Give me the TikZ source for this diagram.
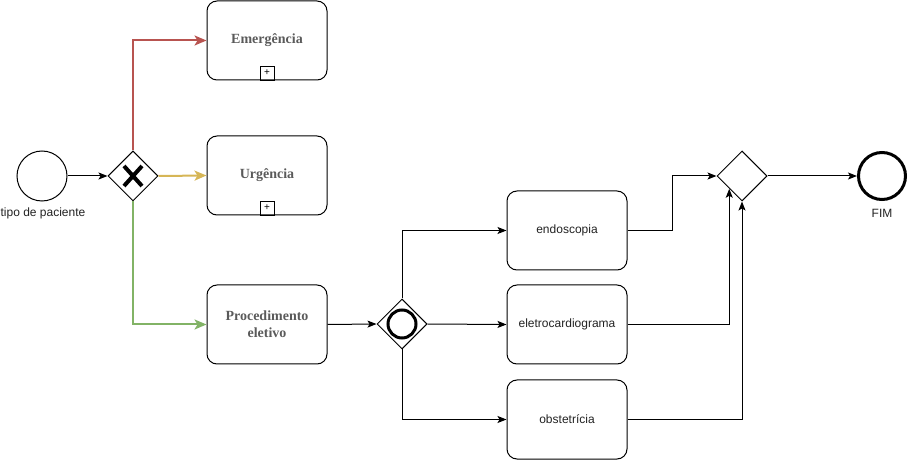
\documentclass[tikz,border=0pt]{standalone}
\usepackage{fontspec}
\setmainfont{Liberation Serif}
\setsansfont{Liberation Sans}
\usetikzlibrary{shapes.geometric,arrows.meta}
\definecolor{cred}{HTML}{B85450}
\definecolor{cyel}{HTML}{D6B656}
\definecolor{cgrn}{HTML}{82B366}
\definecolor{ttl}{HTML}{5A5A5A}
\definecolor{lbl}{HTML}{222222}
\tikzset{
  task/.style={draw=black, line width=1pt, rounded corners=10pt, minimum width=120pt, minimum height=79pt, inner sep=0pt, align=center},
  sub/.style={task, font=\fontsize{14}{17}\selectfont\bfseries\rmfamily, text=ttl},
  plain/.style={task, font=\fontsize{12}{14}\selectfont\sffamily, text=lbl},
  gate/.style={draw=black, line width=1pt, diamond, minimum size=50pt, inner sep=0pt},
  ev/.style={draw=black, circle, minimum size=50pt, inner sep=0pt},
  lab/.style={font=\fontsize{12}{14}\selectfont\sffamily, text=lbl},
  flow/.style={line width=1pt, -{Stealth[length=9pt,width=7pt,inset=2pt]}},
  cflow/.style={line width=2pt, -{Stealth[length=12pt,width=10pt,inset=3pt]}},
  plus/.style={draw=black, line width=0.8pt, minimum size=14pt, inner sep=0pt, font=\fontsize{10}{10}\selectfont\sffamily}
}
\begin{document}
\begin{tikzpicture}[x=1pt,y=-1pt]
\useasboundingbox (0,0) rectangle (908,462);
% events
\node[ev, line width=1pt] (start) at (42,176) {};
\node[lab] (startlab) at (43,213) {tipo de paciente};
\node[ev, line width=3pt, minimum size=47pt] (fim) at (882,176) {};
\node[lab] (fimlab) at (882,213) {FIM};
% gateways
\node[gate] (gx) at (133,176) {};
\draw[line width=4pt] (124,166) -- (142,186) (142,166) -- (124,186);
\node[gate] (gi) at (402,324) {};
\node[draw=black, circle, line width=3pt, minimum size=28pt, inner sep=0pt] (gicirc) at (402,324) {};
\node[gate] (gp) at (742,176) {};
% tasks
\node[sub] (emerg) at (267,40.5) {Emergência};
\node[plus, anchor=south] (pe) at (emerg.south) {+};
\node[sub] (urg) at (267,175.5) {Urgência};
\node[plus, anchor=south] (pu) at (urg.south) {+};
\node[sub] (proc) at (267,324.5) {Procedimento\\eletivo};
\node[plain] (endo) at (567,230.5) {endoscopia};
\node[plain] (eletro) at (567,324.5) {eletrocardiograma};
\node[plain] (obst) at (567,419.5) {obstetrícia};
% flows
\draw[flow] (start.east) -- (gx.west);
\draw[cflow, cred] (gx.north) |- (emerg.west);
\draw[cflow, cyel] (gx.east) -- (urg.west);
\draw[cflow, cgrn] (gx.south) |- (proc.west);
\draw[flow] (proc.east) -- (gi.west);
\draw[flow] (gi.north) |- (endo.west);
\draw[flow] (gi.east) -- (eletro.west);
\draw[flow] (gi.south) |- (obst.west);
\coordinate (bend) at (672,176);
\draw[flow] (endo.east) -| (bend) -- (gp.west);
\draw[flow] (eletro.east) -| (gp.south west);
\draw[flow] (obst.east) -| (gp.south);
\draw[flow] (gp.east) -- (fim.west);
\end{tikzpicture}
\end{document}
